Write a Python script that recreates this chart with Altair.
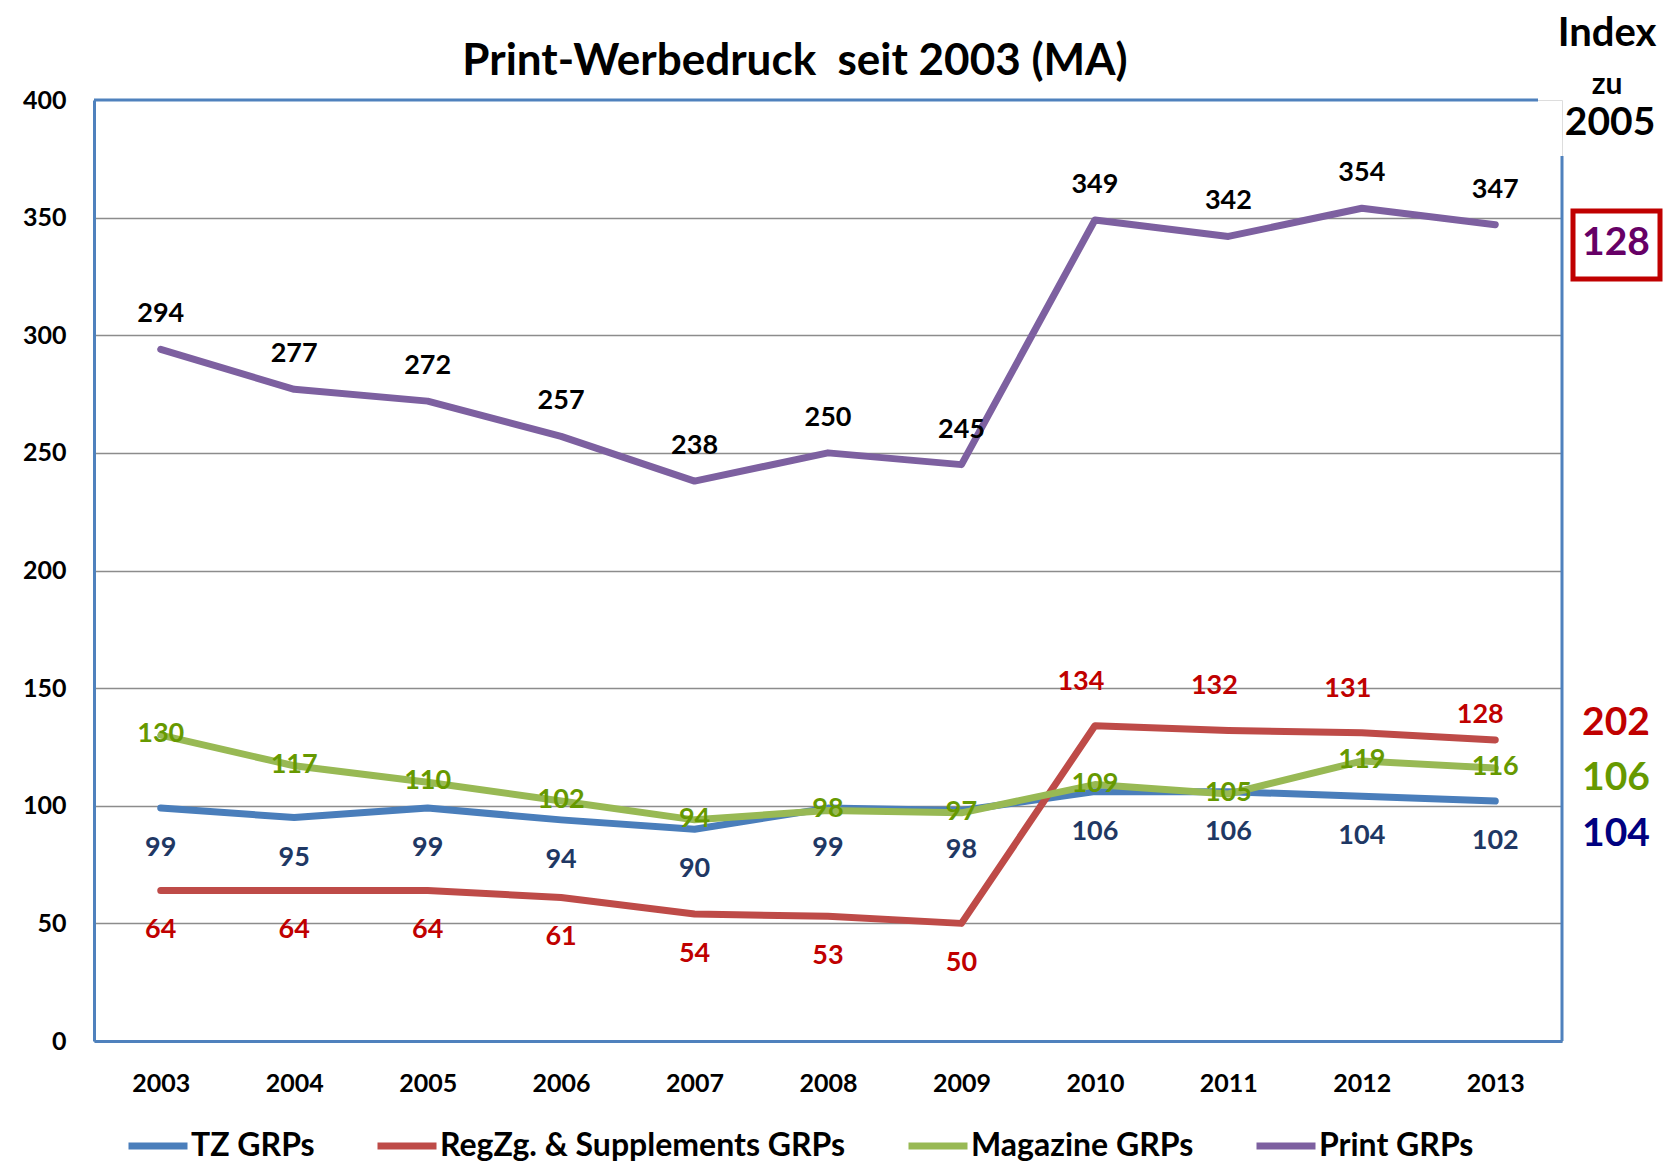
import altair as alt
import pandas as pd

years = ["2003", "2004", "2005", "2006", "2007", "2008", "2009", "2010", "2011", "2012", "2013"]
series_names = ["TZ GRPs", "RegZg. & Supplements GRPs", "Magazine GRPs", "Print GRPs"]
tz = [99, 95, 99, 94, 90, 99, 98, 106, 106, 104, 102]
regzg = [64, 64, 64, 61, 54, 53, 50, 134, 132, 131, 128]
magazine = [130, 117, 110, 102, 94, 98, 97, 109, 105, 119, 116]
printg = [294, 277, 272, 257, 238, 250, 245, 349, 342, 354, 347]
y_ticks = [0, 50, 100, 150, 200, 250, 300, 350, 400]

title_text = "Print-Werbedruck\u00a0 seit 2003 (MA)"
index_head = ["Index", "zu", "2005"]
index_values = ["128", "202", "106", "104"]  # Print, RegZg, Magazine, TZ

line_colors = ["#4a7ebb", "#be4b48", "#98b954", "#7d60a0"]
FONT = "Lato"
W, H = 1468, 941

rows = []
for name, vals in zip(series_names, [tz, regzg, magazine, printg]):
    for i, (yr, v) in enumerate(zip(years, vals)):
        rows.append({"series": name, "year": yr, "value": v, "order": series_names.index(name), "yi": i})
df = pd.DataFrame(rows)

x_enc = alt.X("year:O", sort=years, scale=alt.Scale(paddingOuter=0.5),
              axis=alt.Axis(title=None, labelAngle=0, labelFont=FONT, labelFontSize=25,
                            labelFontWeight="bold", labelColor="black", labelPadding=42,
                            labelBaseline="middle", ticks=False, domainColor="#4f81bd",
                            domainWidth=3, grid=False))
y_enc = alt.Y("value:Q", scale=alt.Scale(domain=[0, 400], nice=False),
              axis=alt.Axis(title=None, values=y_ticks, labelFont=FONT, labelFontSize=25,
                            labelFontWeight="bold", labelColor="black", labelPadding=28,
                            ticks=False, domainColor="#4f81bd", domainWidth=3,
                            grid=True, gridColor="#8c8c8c", gridWidth=1.5,
                            gridOpacity={"condition": {"test": "datum.value == 400", "value": 0}, "value": 1}))

base = alt.Chart(df)

lines = base.mark_line(strokeWidth=7, strokeCap="round", strokeJoin="round").encode(
    x=x_enc, y=y_enc,
    color=alt.Color("series:N", sort=series_names,
                    scale=alt.Scale(domain=series_names, range=line_colors),
                    legend=alt.Legend(orient="none", legendX=31, legendY=1013, direction="horizontal",
                                      title=None, symbolType="stroke", symbolSize=3481,
                                      symbolStrokeWidth=7, labelFont=FONT, labelFontSize=32,
                                      labelFontWeight="bold", labelColor="black", labelLimit=700,
                                      columnPadding=48, labelOffset=0)),
    order="order:Q",
    detail="series:N",
)

def labels(series, color, dy, dx=0, cond=None):
    c = base.transform_filter(alt.datum.series == series)
    if cond is not None:
        c = c.transform_filter(cond)
    return c.mark_text(font=FONT, fontSize=27, fontWeight="bold", color=color, dy=dy, dx=dx,
                       baseline="middle", align="center").encode(
        x=alt.X("year:O", sort=years), y=alt.Y("value:Q"), text="value:Q")

lab_print = labels("Print GRPs", "black", -35)
lab_tz = labels("TZ GRPs", "#1f3864", 40)
lab_reg1 = labels("RegZg. & Supplements GRPs", "#c00000", 40, 0, "datum.yi <= 6")
lab_reg2 = labels("RegZg. & Supplements GRPs", "#c00000", -44, -14, "datum.yi >= 7 && datum.yi <= 9")
lab_reg3 = labels("RegZg. & Supplements GRPs", "#c00000", -25, -15, "datum.yi == 10")
lab_mag = labels("Magazine GRPs", "#669900", -1)

one = pd.DataFrame({"k": [0]})

def txt(t, x, y, size, color="black"):
    return alt.Chart(pd.DataFrame({"t": [t]})).mark_text(
        font=FONT, fontSize=size, fontWeight="bold", color=color, baseline="middle", align="center"
    ).encode(text="t:N", x=alt.value(x), y=alt.value(y))

frame_top = alt.Chart(one).mark_rule(color="#4f81bd", strokeWidth=3).encode(
    x=alt.value(0), x2=alt.value(1444), y=alt.value(0))
frame_right = alt.Chart(one).mark_rule(color="#4f81bd", strokeWidth=3).encode(
    x=alt.value(W), y=alt.value(56), y2=alt.value(H))
box = alt.Chart(one).mark_rect(fill="white", stroke="#c00000", strokeWidth=5).encode(
    x=alt.value(1479), x2=alt.value(1566), y=alt.value(111), y2=alt.value(179))

title = txt(title_text, 701, -38, 44)
idx1 = txt(index_head[0], 1513, -66, 40)
idx2 = txt(index_head[1], 1513, -15, 30)
idx3 = txt(index_head[2], 1516, 23, 39)
v128 = txt(index_values[0], 1522, 143, 39, "#660066")
v202 = txt(index_values[1], 1522, 623, 39, "#c00000")
v106 = txt(index_values[2], 1522, 678, 39, "#669900")
v104 = txt(index_values[3], 1522, 734, 39, "#000080")

chart = alt.layer(
    lines, frame_top, frame_right,
    lab_tz, lab_reg1, lab_reg2, lab_reg3, lab_mag, lab_print,
    title, idx1, idx2, idx3, box, v128, v202, v106, v104,
).properties(
    width=W, height=H,
    autosize=alt.AutoSizeParams(type="none"),
    padding={"left": 86, "top": 92, "right": 101, "bottom": 121},
).configure_view(stroke=None).configure(font=FONT)

chart.save("out.html", embed_options={"renderer": "svg", "actions": False})
